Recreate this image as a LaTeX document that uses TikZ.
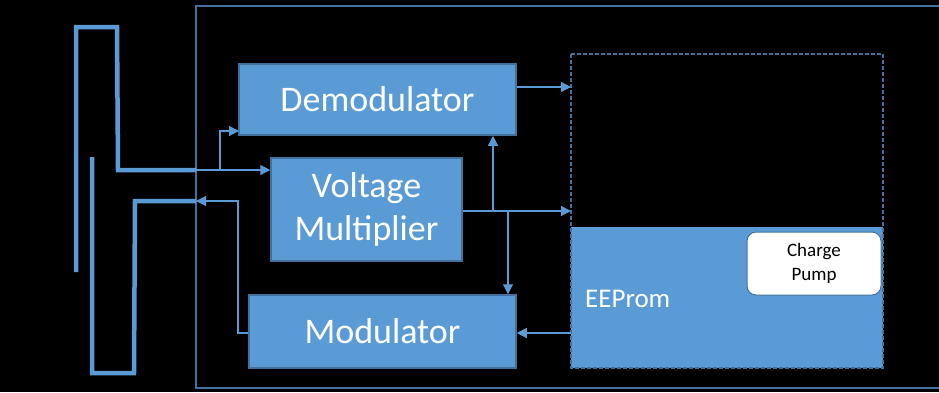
\documentclass[tikz,border=0pt]{standalone}
\usepackage{fontspec}
\setmainfont{Carlito}
\usetikzlibrary{arrows.meta}
\definecolor{boxblue}{HTML}{5B9BD5}
\definecolor{edgeblue}{HTML}{41719C}
\tikzset{
  blk/.style={draw=edgeblue, line width=1.5pt, fill=boxblue, text=white, inner sep=0pt, align=center, font=\fontsize{36}{43}\selectfont},
  ant/.style={draw=boxblue, line width=4.5pt, line cap=butt, line join=miter},
  wire/.style={draw=boxblue, line width=1.2pt},
  arr/.style={wire, -{Triangle[length=10pt,width=10pt]}},
}
\begin{document}
\begin{tikzpicture}[x=1pt,y=-1pt]
\fill[black] (0,0) rectangle (939,392);
\useasboundingbox (0,0) rectangle (939,392);
\clip (0,0) rectangle (939,392);
% outer frame
\draw[edgeblue, line width=2pt] (196,6) rectangle (960,388);
% antenna
\coordinate (a1) at (196,170);
\coordinate (a2) at (196,201);
\draw[ant] (76,272) -- (76,27) -- (117,27) -- (118,170) -- (a1);
\draw[ant] (92,157) -- (92,373) -- (134,373) -- (135,201) -- (a2);
% blocks
\node[blk, minimum width=277pt, minimum height=71pt] (demod) at (377.5,99.5) {Demodulator};
\node[blk, minimum width=191pt, minimum height=103pt] (vm) at (366.5,209.5) {Voltage\\Multiplier};
\node[blk, minimum width=267pt, minimum height=73pt] (mod) at (382.5,331.5) {Modulator};
% memory region
\coordinate (mtl) at (571,54);
\coordinate (mbr) at (883,368);
\fill[boxblue] (571,227) rectangle (mbr);
\draw[edgeblue, line width=1.5pt, dash pattern=on 4pt off 2pt] (mtl) rectangle (mbr);
\node[text=white, anchor=west, font=\fontsize{27}{32}\selectfont, inner sep=0pt] (eep) at (585,299) {EEProm};
\node[draw=edgeblue, line width=1pt, fill=white, rounded corners=9pt, minimum width=134pt, minimum height=63pt, align=center, font=\fontsize{19}{24}\selectfont, inner sep=0pt] (cp) at (814,263.5) {Charge\\Pump};
\coordinate (m1) at (571,87);
\coordinate (m2) at (571,211);
\coordinate (m3) at (571,333);
% connectors
\coordinate (j1) at (220,170);
\draw[wire] (a1) -- (j1);
\draw[arr] (j1) |- (239,131);
\draw[arr] (j1) -- (vm.west |- j1);
\draw[arr] (mod.west |- 0,333) -- (238,333) |- (a2);
\draw[arr] (vm.east |- 0,211) -- (m2);
\coordinate (b1) at (493,211);
\coordinate (b2) at (508,211);
\draw[arr] (b1) -- (b1 |- demod.south);
\draw[arr] (b2) -- (b2 |- mod.north);
\draw[arr] (demod.east |- m1) -- (m1);
\draw[arr] (m3) -- (mod.east |- m3);
\end{tikzpicture}
\end{document}
